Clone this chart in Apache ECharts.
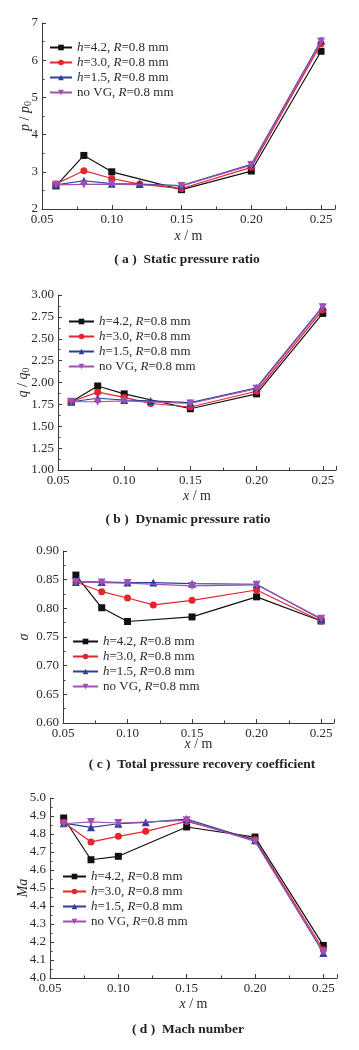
<!DOCTYPE html>
<html>
<head>
<meta charset="utf-8">
<script src="https://cdn.jsdelivr.net/npm/echarts@6/dist/echarts.min.js"></script>
<style>
html,body{margin:0;padding:0;background:#fff;}
#c{width:359px;height:1050px;}
</style>
</head>
<body>
<div id="c"></div>
<script>
// ---- data ----
const xValues = [0.06, 0.08, 0.10, 0.12, 0.15, 0.20, 0.25];
const xTicks = [0.05, 0.10, 0.15, 0.20, 0.25];
const seriesNames = ['h=4.2, R=0.8 mm', 'h=3.0, R=0.8 mm', 'h=1.5, R=0.8 mm', 'no VG, R=0.8 mm'];

// (a) static pressure ratio p/p0
const p_h42  = [2.62, 3.44, 3.00, null, 2.52, 3.02, 6.24];
const p_h30  = [2.67, 3.03, 2.82, 2.67, 2.55, 3.12, 6.44];
const p_h15  = [2.65, 2.76, 2.68, 2.67, 2.63, 3.20, 6.53];
const p_noVG = [2.65, 2.66, 2.67, null, 2.62, 3.18, 6.50];

// (b) dynamic pressure ratio q/q0
const q_h42  = [1.78, 1.96, 1.87, null, 1.70, 1.87, 2.79];
const q_h30  = [1.78, 1.89, 1.83, 1.76, 1.72, 1.90, 2.83];
const q_h15  = [1.78, 1.82, 1.80, 1.79, 1.77, 1.94, 2.87];
const q_noVG = [1.78, 1.78, 1.79, null, 1.76, 1.93, 2.86];

// (c) total pressure recovery coefficient sigma
const s_h42  = [0.858, 0.801, 0.777, null, 0.785, 0.820, 0.778];
const s_h30  = [0.846, 0.829, 0.818, 0.806, 0.814, 0.832, 0.778];
const s_h15  = [0.846, 0.846, 0.845, 0.845, 0.843, 0.842, 0.781];
const s_noVG = [0.846, 0.845, 0.844, null, 0.839, 0.841, 0.782];

// (d) Mach number
const m_h42  = [4.889, 4.657, 4.676, null, 4.839, 4.783, 4.181];
const m_h30  = [4.865, 4.756, 4.787, 4.815, 4.870, 4.770, 4.157];
const m_h15  = [4.860, 4.837, 4.857, 4.865, 4.883, 4.765, 4.139];
const m_noVG = [4.857, 4.867, 4.861, null, 4.876, 4.759, 4.144];

const captions = ['( a )  Static pressure ratio', '( b )  Dynamic pressure ratio', '( c )  Total pressure recovery coefficient', '( d )  Mach number'];

// ---- styling / layout ----
const FONT = 'Liberation Serif';
const colors = ['#111111', '#e3262c', '#2c3f9c', '#a050b2'];
const symbols = ['rect', 'circle', 'triangle', 'triangle'];
const symbolRot = [0, 0, 0, 180];
const symbolSizes = [7, 7, 8, 8];

const panels = [
  {data: [p_h42, p_h30, p_h15, p_noVG], grid: {left: 42, top: 23, width: 293, height: 186},
   y: {min: 2, max: 7, interval: 1, dec: 0}, yName: '{i|p} / {i|p}{s|0}', yGap: 9,
   legend: {left: 49, top: 41, itemWidth: 22}, xName: {gap: 20}, cap: {x: 182, y: 248}},
  {data: [q_h42, q_h30, q_h15, q_noVG], grid: {left: 58, top: 295, width: 278, height: 175},
   y: {min: 1, max: 3, interval: 0.25, dec: 2}, yName: '{i|q} / {i|q}{s|0}', yGap: 27,
   legend: {left: 68, top: 315, itemWidth: 25}, xName: {gap: 19}, cap: {x: 183, y: 508}},
  {data: [s_h42, s_h30, s_h15, s_noVG], grid: {left: 63, top: 551, width: 271, height: 172},
   y: {min: 0.6, max: 0.9, interval: 0.05, dec: 2}, yName: '{i|σ}', yGap: 32,
   legend: {left: 72, top: 635, itemWidth: 25}, xName: {gap: 14}, cap: {x: 197, y: 753}},
  {data: [m_h42, m_h30, m_h15, m_noVG], grid: {left: 50, top: 798, width: 287, height: 180},
   y: {min: 4.0, max: 5.0, interval: 0.1, dec: 1}, yName: '{i|Ma}', yGap: 20,
   legend: {left: 62, top: 870, itemWidth: 23}, xName: {gap: 19}, cap: {x: 183, y: 1018}}
];

const axisColor = '#3a3a3a';
const labelColor = '#2a2a2a';
const rich = {
  i: {fontFamily: FONT, fontStyle: 'italic', fontSize: 14, color: labelColor},
  s: {fontFamily: FONT, fontSize: 10, color: labelColor, verticalAlign: 'bottom', padding: [6, 0, 0, 0]}
};

const option = {
  animation: false,
  backgroundColor: '#fff',
  title: [], grid: [], xAxis: [], yAxis: [], legend: [], series: []
};

panels.forEach((p, k) => {
  option.grid.push(Object.assign({containLabel: false}, p.grid));
  option.xAxis.push({
    type: 'value', gridIndex: k, min: 0.05, max: 0.26, interval: 0.05,
    name: '{i|x} / m', nameLocation: 'middle', nameGap: p.xName.gap, nameMoveOverlap: false,
    nameTextStyle: {fontFamily: FONT, fontSize: 14, color: labelColor, rich: rich},
    axisLine: {lineStyle: {color: axisColor, width: 1}},
    axisTick: {inside: true, length: 4, lineStyle: {color: axisColor}},
    minorTick: {show: true, splitNumber: 2, length: 2.5, lineStyle: {color: axisColor}},
    splitLine: {show: false},
    axisLabel: {fontFamily: FONT, fontSize: 13, color: labelColor, margin: 4, showMaxLabel: false,
      formatter: v => (xTicks.some(t => Math.abs(t - v) < 1e-6) ? v.toFixed(2) : '')}
  });
  option.yAxis.push({
    type: 'value', gridIndex: k, min: p.y.min, max: p.y.max, interval: p.y.interval,
    name: p.yName, nameLocation: 'middle', nameGap: p.yGap, nameMoveOverlap: false,
    nameTextStyle: {fontFamily: FONT, fontSize: 14, color: labelColor, rich: rich},
    axisLine: {show: true, lineStyle: {color: axisColor, width: 1}},
    axisTick: {show: true, inside: true, length: 4, lineStyle: {color: axisColor}},
    minorTick: {show: true, splitNumber: 2, length: 2.5, lineStyle: {color: axisColor}},
    splitLine: {show: false},
    axisLabel: {fontFamily: FONT, fontSize: 13, color: labelColor, margin: 4,
      formatter: v => v.toFixed(p.y.dec)}
  });
  option.title.push({
    text: captions[k], left: p.cap.x, top: p.cap.y, textAlign: 'center',
    textStyle: {fontFamily: FONT, fontSize: 13.5, fontWeight: 'bold', color: '#222'}
  });
  option.legend.push({
    orient: 'vertical', left: p.legend.left, top: p.legend.top,
    itemWidth: p.legend.itemWidth, itemHeight: 7, itemGap: 2,
    padding: 0,
    data: seriesNames,
    textStyle: {fontFamily: FONT, fontSize: 13, color: labelColor, lineHeight: 13,
      rich: {i: {fontFamily: FONT, fontStyle: 'italic', fontSize: 13, color: labelColor, lineHeight: 13}}},
    formatter: name => name.replace(/^h=/, '{i|h}=').replace('R=', '{i|R}=')
  });
  p.data.forEach((vals, j) => {
    option.series.push({
      type: 'line', name: seriesNames[j], xAxisIndex: k, yAxisIndex: k,
      data: xValues.map((x, n) => [x, vals[n]]).filter(d => d[1] !== null),
      symbol: symbols[j], symbolRotate: symbolRot[j], symbolSize: symbolSizes[j],
      showAllSymbol: true,
      lineStyle: {color: colors[j], width: 1.2},
      itemStyle: {color: colors[j]},
      z: 2 + j
    });
  });
});

const chart = echarts.init(document.getElementById('c'), null, {renderer: 'canvas'});
chart.setOption(option);
</script>
</body>
</html>
